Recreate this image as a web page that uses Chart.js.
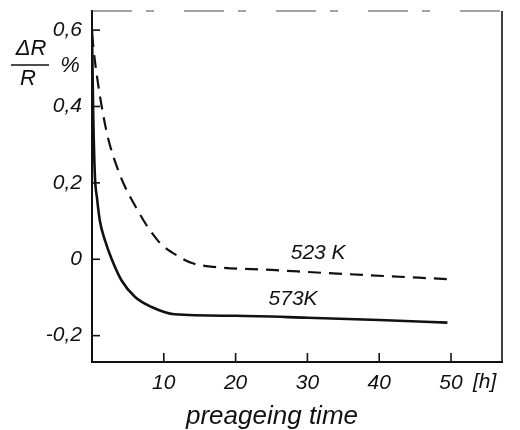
<!DOCTYPE html>
<html>
<head>
<meta charset="utf-8">
<script src="https://cdn.jsdelivr.net/npm/chart.js@4.4.0/dist/chart.umd.min.js"></script>
<style>
  html, body { margin: 0; padding: 0; background: #fff; }
  #wrap { width: 520px; height: 430px; }
</style>
</head>
<body>
<div id="wrap"><canvas id="c" width="520" height="430"></canvas></div>
<script>
// preageing time [h] and dR/R [%]
const hours523 = [0, 0.4, 0.8, 1.35, 2.2, 3.6, 4.6, 6, 7.4, 8.5, 9.6, 12, 13.9, 17, 25, 33.6, 49.5];
const dr523 = [0.59, 0.52, 0.465, 0.4, 0.32, 0.235, 0.19, 0.14, 0.095, 0.065, 0.04, 0.008, -0.01, -0.02, -0.028, -0.037, -0.052];

const hours573 = [0, 0.15, 0.4, 0.7, 1.1, 1.8, 2.75, 4.1, 6, 8.3, 11.5, 20, 30, 40, 49.5];
const dr573 = [0.6, 0.4, 0.22, 0.16, 0.1, 0.05, 0, -0.055, -0.099, -0.125, -0.144, -0.148, -0.153, -0.159, -0.166];

const xTicks = [10, 20, 30, 40, 50];
const yTicks = [0.6, 0.4, 0.2, 0, -0.2];

const curveLabels = [
  { text: '523 K', x: 31.5, y: 0.015 },
  { text: '573K', x: 28, y: -0.105 }
];

const FONT = 'Liberation Sans, Arial, sans-serif';

function toPoints(xs, ys) {
  return xs.map((x, i) => ({ x: x, y: ys[i] }));
}

// extra drawing: ticks inside, frame, axis captions
const decorPlugin = {
  id: 'decor',
  afterDraw(chart) {
    const c = chart.ctx;
    const a = chart.chartArea;
    const xs = chart.scales.x;
    const ys = chart.scales.y;
    c.save();
    c.strokeStyle = '#111';
    c.fillStyle = '#111';

    // inward ticks
    c.lineWidth = 1.6;
    yTicks.forEach(v => {
      const py = ys.getPixelForValue(v);
      c.beginPath();
      c.moveTo(a.left, py);
      c.lineTo(a.left + 8, py);
      c.stroke();
    });
    xTicks.forEach(v => {
      const px = xs.getPixelForValue(v);
      c.beginPath();
      c.moveTo(px, a.bottom);
      c.lineTo(px, a.bottom - 9);
      c.stroke();
    });

    // right border
    c.lineWidth = 1.6;
    c.beginPath();
    c.moveTo(a.right, a.top);
    c.lineTo(a.right, a.bottom);
    c.stroke();
    // top border (faint, broken)
    c.lineWidth = 1;
    c.strokeStyle = '#444';
    c.setLineDash([40, 14, 8, 30]);
    c.beginPath();
    c.moveTo(a.left, a.top);
    c.lineTo(a.right, a.top);
    c.stroke();
    c.setLineDash([]);
    c.strokeStyle = '#111';

    // curve labels
    c.font = 'italic 21px ' + FONT;
    c.textAlign = 'center';
    c.textBaseline = 'middle';
    curveLabels.forEach(l => {
      c.fillText(l.text, xs.getPixelForValue(l.x), ys.getPixelForValue(l.y));
    });

    // "[h]" unit next to last x label
    c.textAlign = 'left';
    c.fillText('[h]', xs.getPixelForValue(50) + 22, a.bottom + 20);

    // y caption: ΔR / R  %
    c.font = 'italic 22px ' + FONT;
    c.textAlign = 'center';
    c.fillText('\u0394R', 31, 49);
    c.fillText('R', 28, 79);
    c.lineWidth = 1.4;
    c.beginPath();
    c.moveTo(11, 65);
    c.lineTo(49, 65);
    c.stroke();
    c.fillText('%', 70, 66);

    // x caption
    c.font = 'italic 26px ' + FONT;
    c.fillText('preageing time', 272, 417);
    c.restore();
  }
};

const ctx = document.getElementById('c').getContext('2d');

new Chart(ctx, {
  type: 'scatter',
  data: {
    datasets: [
      {
        label: '523 K',
        data: toPoints(hours523, dr523),
        showLine: true,
        borderColor: '#111',
        borderWidth: 2.2,
        borderDash: [13, 8],
        pointRadius: 0,
        cubicInterpolationMode: 'monotone'
      },
      {
        label: '573 K',
        data: toPoints(hours573, dr573),
        showLine: true,
        borderColor: '#111',
        borderWidth: 2.6,
        pointRadius: 0,
        cubicInterpolationMode: 'monotone'
      }
    ]
  },
  options: {
    responsive: false,
    animation: false,
    layout: { padding: { top: 11, right: 18, left: 0, bottom: 0 } },
    plugins: {
      legend: { display: false },
      tooltip: { enabled: false }
    },
    scales: {
      x: {
        type: 'linear',
        min: 0,
        max: 57.1,
        afterFit: s => { s.height = 68; s.paddingLeft = 0; s.paddingRight = 0; },
        afterBuildTicks: s => { s.ticks = xTicks.map(v => ({ value: v })); },
        grid: { display: false, drawTicks: false },
        border: { display: true, color: '#111', width: 2 },
        ticks: {
          padding: 9,
          color: '#111',
          font: { family: FONT, size: 21, style: 'italic' },
          callback: v => String(v)
        }
      },
      y: {
        type: 'linear',
        min: -0.269,
        max: 0.65,
        afterFit: s => { s.width = 92; s.paddingTop = 0; s.paddingBottom = 0; },
        afterBuildTicks: s => { s.ticks = yTicks.map(v => ({ value: v })); },
        grid: { display: false, drawTicks: false },
        border: { display: true, color: '#111', width: 2 },
        ticks: {
          padding: 10,
          color: '#111',
          font: { family: FONT, size: 21, style: 'italic' },
          callback: v => (v < 0 ? '-' : '') + Math.abs(v).toFixed(1).replace('.', ',').replace('0,0', '0')
        }
      }
    }
  },
  plugins: [decorPlugin]
});
</script>
</body>
</html>
